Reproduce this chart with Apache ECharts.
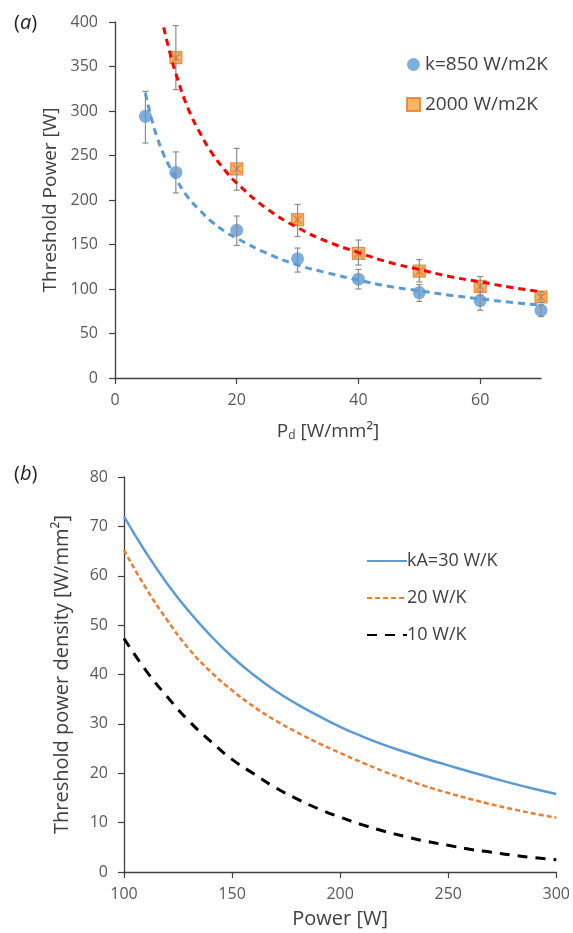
<!DOCTYPE html>
<html><head><meta charset="utf-8">
<script src="https://cdn.jsdelivr.net/npm/echarts@6/dist/echarts.min.js"></script>
<style>html,body{margin:0;padding:0;background:#fff}#c{width:573px;height:933px}</style>
</head><body><div id="c"></div>
<script>
// ---------- Panel (a) ----------
const pdBlue = [5, 10, 20, 30, 40, 50, 60, 70];
const powBlue = [294, 231, 166, 134, 111, 96, 87, 76];
const powBlueLo = [264, 208, 149, 119, 100, 86, 76, 69];
const powBlueHi = [322, 254, 182, 146, 122, 105, 97, 82];

const pdOrange = [10, 20, 30, 40, 50, 60, 70];
const powOrange = [360, 235, 178, 140, 120, 103, 91];
const powOrangeLo = [324, 211, 159, 127, 108, 93, 85];
const powOrangeHi = [396, 258, 195, 155, 133, 114, 97];

const trendRedX = [8, 9, 10, 12, 14, 16, 18, 20, 25, 30, 35, 40, 45, 50, 55, 60, 65, 70];
const trendRedY = [394, 366, 342, 303, 275, 252, 234, 219, 190, 169, 153, 141, 130, 122, 114, 108, 102, 97];
const trendBlueX = [5, 6, 7, 8, 9, 10, 12, 14, 16, 18, 20, 25, 30, 35, 40, 45, 50, 55, 60, 65, 70];
const trendBlueY = [320, 291, 269, 251, 237, 224, 203, 188, 175, 165, 157, 140, 127, 118, 110, 103, 98, 93, 89, 85, 82];

const legendA = ['k=850 W/m2K', '2000 W/m2K'];

// ---------- Panel (b) ----------
const powerB = [100,110,120,130,140,150,160,170,180,190,200,210,220,230,240,250,260,270,280,290,300];
const kA30 = [72,64.8,58.4,52.8,47.9,43.6,39.9,36.7,34.0,31.6,29.4,27.5,25.8,24.3,22.9,21.6,20.3,19.1,17.9,16.8,15.8];
const kA20 = [65.2,57.6,51.0,45.2,40.6,36.8,33.5,30.7,28.3,26.1,24.1,22.2,20.4,18.8,17.3,16.0,14.8,13.7,12.7,11.8,11.0];
const kA10 = [47.3,40.9,35.5,30.6,26.5,22.8,19.9,17.1,14.8,12.8,11.1,9.6,8.3,7.2,6.2,5.4,4.6,4.0,3.4,2.9,2.5];
const legendB = ['kA=30 W/K', '20 W/K', '10 W/K'];

const FF = 'Open Sans';
const axisCol = '#404040';
const labCol = '#595959';
const titleCol = '#404040';

function zip(a, b) { return a.map((v, i) => [v, b[i]]); }
function zip3(a, b, c) { return a.map((v, i) => [v, b[i], c[i]]); }

function errRender(params, api) {
  const x = api.value(0), lo = api.value(1), hi = api.value(2);
  const p1 = api.coord([x, lo]), p2 = api.coord([x, hi]);
  const w = 3;
  const style = { stroke: '#8c8c8c', lineWidth: 1.2 };
  return { type: 'group', children: [
    { type: 'line', shape: { x1: p1[0], y1: p1[1], x2: p2[0], y2: p2[1] }, style },
    { type: 'line', shape: { x1: p1[0] - w, y1: p1[1], x2: p1[0] + w, y2: p1[1] }, style },
    { type: 'line', shape: { x1: p2[0] - w, y1: p2[1], x2: p2[0] + w, y2: p2[1] }, style }
  ]};
}

const axisCommon = {
  axisLine: { show: true, lineStyle: { color: axisCol, width: 1.3 } },
  axisTick: { show: true, inside: false, length: 6, lineStyle: { color: axisCol, width: 1.2 } },
  splitLine: { show: false },
  axisLabel: { color: labCol, fontSize: 16, fontFamily: FF },
  nameTextStyle: { color: titleCol, fontFamily: FF }
};

const chart = echarts.init(document.getElementById('c'));
chart.setOption({
  animation: false,
  backgroundColor: '#fff',
  graphic: [
    { type: 'text', left: 14, top: 13, style: { text: '({i|a})', fontSize: 20, fontFamily: FF, fill: '#222', rich: { i: { fontStyle: 'italic', fontSize: 20, fontFamily: FF, fill: '#222' } } } },
    { type: 'text', left: 14, top: 464, style: { text: '({i|b})', fontSize: 20, fontFamily: FF, fill: '#222', rich: { i: { fontStyle: 'italic', fontSize: 20, fontFamily: FF, fill: '#222' } } } }
  ],
  grid: [
    { left: 115, right: 32, top: 22, height: 356 },
    { left: 124, right: 14, top: 477, height: 395 }
  ],
  xAxis: [
    Object.assign({}, axisCommon, {
      gridIndex: 0, type: 'value', min: 0, max: 70, interval: 20,
      axisLabel: Object.assign({}, axisCommon.axisLabel, { showMaxLabel: false, margin: 14 }),
      name: 'P{s|d} [W/mm²]', nameLocation: 'middle', nameGap: 44,
      nameTextStyle: { color: titleCol, fontFamily: FF, fontSize: 19,
        rich: { s: { fontSize: 12, fontFamily: FF, color: titleCol, verticalAlign: 'bottom', padding: [8, 0, 0, 0] } } }
    }),
    Object.assign({}, axisCommon, {
      gridIndex: 1, type: 'value', min: 100, max: 300, interval: 50,
      axisLabel: Object.assign({}, axisCommon.axisLabel, { margin: 14 }),
      name: 'Power [W]', nameLocation: 'middle', nameGap: 37,
      nameTextStyle: { color: titleCol, fontFamily: FF, fontSize: 20 }
    })
  ],
  yAxis: [
    Object.assign({}, axisCommon, {
      gridIndex: 0, type: 'value', min: 0, max: 400, interval: 50,
      axisLabel: Object.assign({}, axisCommon.axisLabel, { margin: 17 }),
      name: 'Threshold Power [W]', nameLocation: 'middle', nameGap: 54,
      nameTextStyle: { color: titleCol, fontFamily: FF, fontSize: 19 }
    }),
    Object.assign({}, axisCommon, {
      gridIndex: 1, type: 'value', min: 0, max: 80, interval: 10,
      axisLabel: Object.assign({}, axisCommon.axisLabel, { margin: 16 }),
      name: 'Threshold power density [W/mm²]', nameLocation: 'middle', nameGap: 52,
      nameTextStyle: { color: titleCol, fontFamily: FF, fontSize: 20 }
    })
  ],
  legend: [
    { data: [{ name: legendA[0], icon: 'circle' }, { name: legendA[1], icon: 'rect' }],
      orient: 'vertical', left: 401, top: 50, itemWidth: 13, itemHeight: 13, itemGap: 21,
      textStyle: { fontSize: 19, fontFamily: FF, color: titleCol } },
    { data: legendB, orient: 'vertical', left: 361, top: 547, itemWidth: 40, itemHeight: 14, itemGap: 19,
      itemStyle: { opacity: 0 },
      textStyle: { fontSize: 18, fontFamily: FF, color: titleCol, padding: [0, 0, 0, -5] } }
  ],
  series: [
    { name: legendA[0], type: 'scatter', xAxisIndex: 0, yAxisIndex: 0, data: zip(pdBlue, powBlue),
      symbol: 'circle', symbolSize: 13, itemStyle: { color: '#5B9BD5' }, z: 2 },
    { name: legendA[1], type: 'scatter', xAxisIndex: 0, yAxisIndex: 0, data: zip(pdOrange, powOrange),
      symbol: 'rect', symbolSize: 12, itemStyle: { color: '#F8A33C', borderColor: '#E9782A', borderWidth: 1.2 }, z: 2 },
    { name: 'x', type: 'scatter', xAxisIndex: 0, yAxisIndex: 0, data: zip(pdOrange, powOrange), silent: true,
      symbol: 'path://M0,1 L1,0 L5,4 L9,0 L10,1 L6,5 L10,9 L9,10 L5,6 L1,10 L0,9 L4,5 Z', symbolSize: 9,
      itemStyle: { color: '#E36C1E' }, z: 3 },
    { name: 'errBlue', type: 'custom', xAxisIndex: 0, yAxisIndex: 0, data: zip3(pdBlue, powBlueLo, powBlueHi),
      renderItem: errRender, encode: { x: 0, y: [1, 2] }, z: 4, silent: true },
    { name: 'errOrange', type: 'custom', xAxisIndex: 0, yAxisIndex: 0, data: zip3(pdOrange, powOrangeLo, powOrangeHi),
      renderItem: errRender, encode: { x: 0, y: [1, 2] }, z: 4, silent: true },
    { name: 'trendRed', type: 'line', xAxisIndex: 0, yAxisIndex: 0, data: zip(trendRedX, trendRedY), smooth: true,
      symbol: 'none', lineStyle: { color: '#FF0000', width: 3, type: [7, 5] }, z: 5, silent: true },
    { name: 'trendBlue', type: 'line', xAxisIndex: 0, yAxisIndex: 0, data: zip(trendBlueX, trendBlueY), smooth: true,
      symbol: 'none', lineStyle: { color: '#5B9BD5', width: 3, type: [7, 5] }, z: 5, silent: true },

    { name: legendB[0], type: 'line', xAxisIndex: 1, yAxisIndex: 1, data: zip(powerB, kA30), smooth: true,
      symbol: 'none', itemStyle: { color: '#5B9BD5' }, lineStyle: { color: '#5B9BD5', width: 2.5, type: 'solid' } },
    { name: legendB[1], type: 'line', xAxisIndex: 1, yAxisIndex: 1, data: zip(powerB, kA20), smooth: true,
      symbol: 'none', itemStyle: { color: '#ED7D31' }, lineStyle: { color: '#ED7D31', width: 2.5, type: [5, 3] } },
    { name: legendB[2], type: 'line', xAxisIndex: 1, yAxisIndex: 1, data: zip(powerB, kA10), smooth: true,
      symbol: 'none', itemStyle: { color: '#000' }, lineStyle: { color: '#000', width: 3, type: [10, 8] } }
  ]
});
</script></body></html>
